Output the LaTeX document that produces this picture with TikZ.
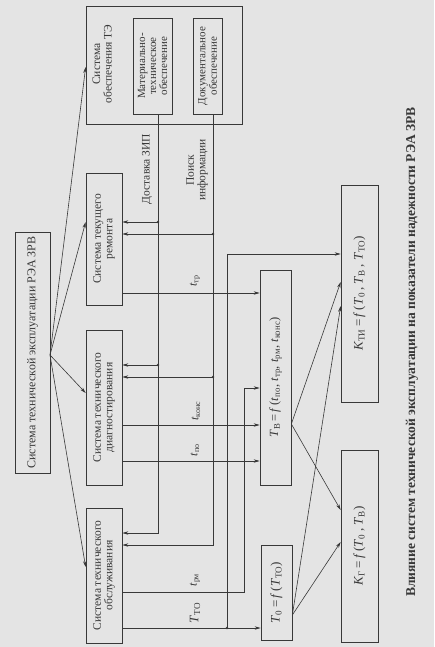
\documentclass[tikz,border=0pt]{standalone}
\usepackage{fontspec}
\setmainfont{Liberation Serif}
\usetikzlibrary{arrows.meta}
\definecolor{ink}{HTML}{383838}
\definecolor{paper}{HTML}{E4E4E4}
\newcommand\sbs[2]{\textit{#1}\textsubscript{#2}}
\begin{document}
\begin{tikzpicture}[x=1pt,y=-1pt,
  box/.style={draw=ink,line width=0.7pt,inner sep=0pt,minimum width=#1},
  rot/.style={rotate=90,text=ink,align=center,font=\fontsize{11.5}{11.5}\selectfont,inner sep=0pt},
  lbl/.style={rotate=90,text=ink,inner sep=0pt,font=\fontsize{12}{13}\selectfont},
  frm/.style={rotate=90,text=ink,inner sep=0pt,font=\fontsize{13}{14}\selectfont},
  ln/.style={draw=ink,line width=0.6pt},
  arr/.style={ln,-{Stealth[length=6pt,width=3.4pt]}},
  dot/.style={fill=ink,circle,inner sep=0pt,minimum size=2.6pt}]
\fill[paper] (0,0) rectangle (434,647);
\useasboundingbox (0,0) rectangle (434,647);
% boxes
\node[box=35pt,minimum height=241pt] (main) at (32.5,352.5) {};
\node[rot,font=\fontsize{12}{12}\selectfont] at (main) {Система технической эксплуатации РЭА ЗРВ};
\node[box=156pt,minimum height=118pt] (te) at (164,65) {};
\node[rot] at (102,64) {Система\\обеспечения ТЭ};
\node[box=39pt,minimum height=96pt] (mt) at (152.5,66) {};
\node[rot,font=\fontsize{11}{11}\selectfont] at (mt) {Материально-\\техническое\\обеспечение};
\node[box=29pt,minimum height=96pt] (doc) at (207.5,66) {};
\node[rot,font=\fontsize{11}{11.5}\selectfont] at (doc) {Документальное\\обеспечение};
\node[box=36pt,minimum height=132pt] (tr) at (104,239) {};
\node[rot] at (tr) {Система текущего\\ремонта};
\node[box=36pt,minimum height=155pt] (td) at (104,407.5) {};
\node[rot] at (td) {Система технического\\диагностирования};
\node[box=36pt,minimum height=135pt] (to) at (104,575.5) {};
\node[rot] at (to) {Система технического\\обслуживания};
\node[box=31pt,minimum height=215pt] (tb) at (275.5,377.5) {};
\node[frm,font=\fontsize{12.5}{14}\selectfont] at (tb) {\sbs{T}{В}\,=\,\textit{f}\,(\sbs{t}{по}, \sbs{t}{тр}, \sbs{t}{рм}, \sbs{t}{конс})};
\node[box=31pt,minimum height=95pt] (t0) at (276.5,592.5) {};
\node[frm] at (t0) {\sbs{T}{0}\,=\,\textit{f}\,(\sbs{T}{ТО})};
\node[box=37pt,minimum height=217pt] (kti) at (359.5,293.5) {};
\node[frm] at (kti) {\sbs{K}{ТИ}\,=\,\textit{f}\,(\sbs{T}{0}\,,\ \sbs{T}{В}\,,\ \sbs{T}{ТО})};
\node[box=37pt,minimum height=192pt] (kg) at (359.5,546) {};
\node[frm] at (kg) {\sbs{K}{Г}\,=\,\textit{f}\,(\sbs{T}{0}\,,\ \sbs{T}{В})};
\node[rotate=90,text=ink,inner sep=0pt,font=\fontsize{13.5}{14}\selectfont\bfseries] (title) at (412,352) {Влияние систем технической эксплуатации на показатели надежности РЭА ЗРВ};
% main arrows
\coordinate (o) at (50,355);
\draw[arr] (o) -- (te.west |- 0,67);
\draw[arr] (o) -- (tr.west |- 0,222);
\draw[arr] (o) -- (td.west |- 0,393);
\draw[arr] (o) -- (to.west |- 0,567);
% supply buses
\coordinate (zT) at (mt.south -| 158,0);
\coordinate (zA) at (158,222);
\coordinate (zB) at (158,365);
\coordinate (zC) at (158,533);
\coordinate (iT) at (doc.south -| 213,0);
\coordinate (iA) at (213,234);
\coordinate (iB) at (213,377);
\coordinate (iC) at (213,545);
\draw[arr] (zT) -- (zC) -- (to.east |- zC);
\draw[arr] (iT) -- (iC) -- (to.east |- iC);
\draw[arr] (zA) -- (tr.east |- zA);
\draw[arr] (zB) -- (td.east |- zB);
\draw[arr] (iA) -- (tr.east |- iA);
\draw[arr] (iB) -- (td.east |- iB);
\foreach \p in {zA,zB,iA,iB} \node[dot] at (\p) {};
\node[rot] at (147,169) {Доставка ЗИП};
\node[rot] at (197,170) {Поиск\\информации};
% times
\draw[arr] (tr.east |- 0,293) -- (tb.west |- 0,293);
\node[lbl] at (195,281) {\sbs{t}{тр}};
\draw[arr] (td.east |- 0,425) -- (tb.west |- 0,425);
\node[lbl] at (196,411) {\sbs{t}{конс}};
\draw[arr] (td.east |- 0,461) -- (tb.west |- 0,461);
\node[lbl] at (195,450) {\sbs{t}{по}};
\coordinate (rA) at (244,592);
\coordinate (rB) at (244,388);
\draw[arr] (to.east |- rA) -- (rA) -- (rB) -- (tb.west |- rB);
\node[lbl] at (195,580) {\sbs{t}{рм}};
\coordinate (tA) at (227,628);
\coordinate (tB) at (227,254);
\draw[arr] (to.east |- tA) -- (t0.west |- tA);
\draw[arr] (tA) -- (tB) -- (kti.west |- tB);
\node[dot] at (tA) {};
\node[lbl,font=\fontsize{13}{14}\selectfont] at (195,613) {\sbs{T}{ТО}};
% indicators
\coordinate (bo) at (tb.east |- 0,424);
\coordinate (zo) at (t0.east |- 0,615);
\draw[arr] (bo) -- (kti.west |- 0,282);
\draw[arr] (bo) -- (kg.west |- 0,510);
\draw[arr] (zo) -- (kti.west |- 0,306);
\draw[arr] (zo) -- (kg.west |- 0,542);
\end{tikzpicture}
\end{document}
